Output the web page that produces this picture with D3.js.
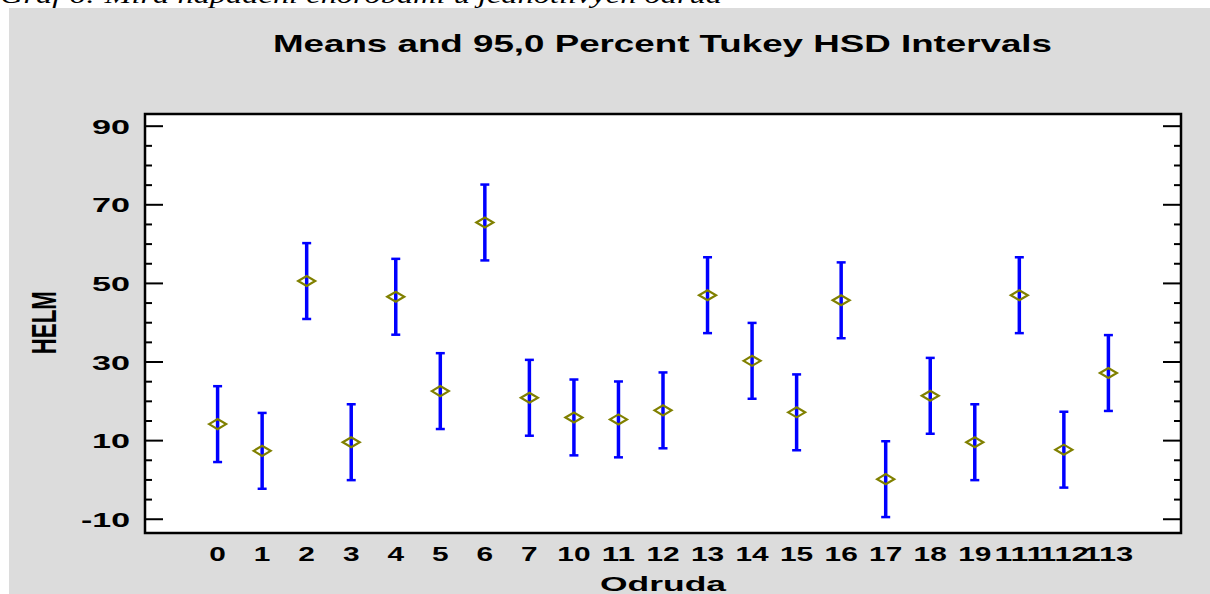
<!DOCTYPE html>
<html>
<head>
<meta charset="utf-8">
<script src="https://cdn.jsdelivr.net/npm/d3@7"></script>
<style>
  html, body { margin: 0; padding: 0; background: #ffffff; }
  svg { display: block; }
  text { font-family: "Liberation Sans", Arial, sans-serif; font-weight: bold; fill: #000; }
</style>
</head>
<body>
<svg id="chart" width="1210" height="594"></svg>
<script>
// Varieties (odrůdy) on the x axis
const categories = ["0","1","2","3","4","5","6","7","10","11","12","13","14","15","16","17","18","19","111","112","113"];
// Group means of HELM
const means = [14.2, 7.4, 50.6, 9.6, 46.6, 22.6, 65.5, 20.9, 15.9, 15.4, 17.7, 47.0, 30.3, 17.2, 45.7, 0.2, 21.4, 9.6, 47.0, 7.7, 27.2];
// Half-width of the 95% Tukey HSD interval (equal for all groups)
const hsdHalfWidth = 9.65;
// Y axis ticks
const yMajorTicks = [-10, 10, 30, 50, 70, 90];
const yMinorTicks = [-5, 0, 5, 15, 20, 25, 35, 40, 45, 55, 60, 65, 75, 80, 85];

const title = "Means and 95,0 Percent Tukey HSD Intervals";
const xTitle = "Odruda";
const yTitle = "HELM";
const caption = "Graf 6: Míra napadení chorobami u jednotlivých odrůd";

const svg = d3.select("#chart");

// plot frame
const frame = { left: 145, right: 1181, top: 114, bottom: 533 };

const x = d3.scalePoint().domain(categories).range([frame.left, frame.right]).padding(1.63);
const y = d3.scaleLinear().domain([-13.5, 93.1]).range([frame.bottom, frame.top]);

// document caption above the figure
svg.append("text")
  .attr("x", 0).attr("y", 2.5)
  .attr("textLength", 722).attr("lengthAdjust", "spacingAndGlyphs")
  .style("font-family", "'Liberation Serif', 'Times New Roman', serif")
  .style("font-style", "italic").style("font-weight", "normal")
  .style("font-size", "24px")
  .text(caption);

// grey figure panel
svg.append("rect")
  .attr("x", 9).attr("y", 8).attr("width", 1201).attr("height", 586)
  .attr("fill", "#dcdcdc");

// plot area
svg.append("rect")
  .attr("x", x.range()[0]).attr("y", y(y.domain()[1]))
  .attr("width", x.range()[1] - x.range()[0])
  .attr("height", y(y.domain()[0]) - y(y.domain()[1]))
  .attr("fill", "#ffffff");

// title
svg.append("text")
  .attr("x", 273).attr("y", 52)
  .attr("textLength", 779).attr("lengthAdjust", "spacingAndGlyphs")
  .style("font-size", "24px")
  .text(title);

// y ticks on both sides, pointing inward
const tickG = svg.append("g").attr("stroke", "#000").attr("stroke-width", 2);
const [x0, x1] = x.range();
tickG.selectAll("line.majL").data(yMajorTicks).enter().append("line")
  .attr("x1", x0).attr("x2", x0 + 18).attr("y1", d => y(d)).attr("y2", d => y(d));
tickG.selectAll("line.minL").data(yMinorTicks).enter().append("line")
  .attr("x1", x0).attr("x2", x0 + 7).attr("y1", d => y(d)).attr("y2", d => y(d));
tickG.selectAll("line.majR").data(yMajorTicks).enter().append("line")
  .attr("x1", x1).attr("x2", x1 - 18).attr("y1", d => y(d)).attr("y2", d => y(d));
tickG.selectAll("line.minR").data(yMinorTicks).enter().append("line")
  .attr("x1", x1).attr("x2", x1 - 7).attr("y1", d => y(d)).attr("y2", d => y(d));

// y tick labels
svg.append("g").selectAll("text").data(yMajorTicks).enter().append("text")
  .attr("x", 130).attr("y", d => y(d) + 7.5)
  .attr("text-anchor", "end")
  .attr("textLength", d => String(d).length === 3 ? 49 : 38)
  .attr("lengthAdjust", "spacingAndGlyphs")
  .style("font-size", "21px")
  .text(d => d);

// x tick labels
svg.append("g").selectAll("text").data(categories).enter().append("text")
  .attr("x", d => x(d)).attr("y", 561)
  .attr("text-anchor", "middle")
  .attr("textLength", d => d.length * 16.6)
  .attr("lengthAdjust", "spacingAndGlyphs")
  .style("font-size", "21px")
  .text(d => d);

// axis titles
svg.append("text")
  .attr("x", (x0 + x1) / 2).attr("y", 591)
  .attr("text-anchor", "middle")
  .attr("textLength", 126).attr("lengthAdjust", "spacingAndGlyphs")
  .style("font-size", "21px")
  .text(xTitle);

svg.append("text")
  .attr("transform", `translate(56,${(y(-10) + y(90)) / 2 + 0}) scale(1.5,1) rotate(-90)`)
  .attr("text-anchor", "middle")
  .attr("textLength", 63).attr("lengthAdjust", "spacingAndGlyphs")
  .style("font-size", "24px")
  .text(yTitle);

// interval bars
const rows = categories.map((c, i) => ({ c, m: means[i], lo: means[i] - hsdHalfWidth, hi: means[i] + hsdHalfWidth }));
const bars = svg.append("g").attr("stroke", "#0000ff");
bars.selectAll("line.v").data(rows).enter().append("line")
  .attr("x1", d => x(d.c)).attr("x2", d => x(d.c))
  .attr("y1", d => y(d.lo)).attr("y2", d => y(d.hi))
  .attr("stroke-width", 3.5);
bars.selectAll("line.top").data(rows).enter().append("line")
  .attr("x1", d => x(d.c) - 4.5).attr("x2", d => x(d.c) + 4.5)
  .attr("y1", d => y(d.hi)).attr("y2", d => y(d.hi))
  .attr("stroke-width", 2.5);
bars.selectAll("line.bot").data(rows).enter().append("line")
  .attr("x1", d => x(d.c) - 4.5).attr("x2", d => x(d.c) + 4.5)
  .attr("y1", d => y(d.lo)).attr("y2", d => y(d.lo))
  .attr("stroke-width", 2.5);

// mean markers (diamonds)
svg.append("g").selectAll("path").data(rows).enter().append("path")
  .attr("d", d => {
    const cx = x(d.c), cy = y(d.m), w = 8.5, h = 5;
    return `M${cx - w},${cy}L${cx},${cy - h}L${cx + w},${cy}L${cx},${cy + h}Z`;
  })
  .attr("fill", "none")
  .attr("stroke", "#808000")
  .attr("stroke-width", 2.2);

// plot frame
svg.append("rect")
  .attr("x", x0).attr("y", y(y.domain()[1]))
  .attr("width", x1 - x0)
  .attr("height", y(y.domain()[0]) - y(y.domain()[1]))
  .attr("fill", "none").attr("stroke", "#000").attr("stroke-width", 2.5);
</script>
</body>
</html>
